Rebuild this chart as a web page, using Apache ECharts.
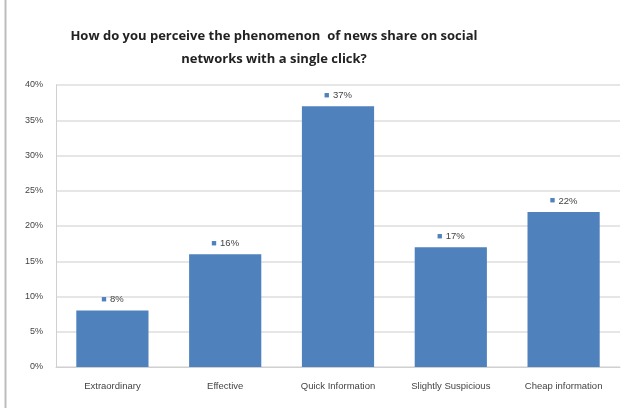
<!DOCTYPE html>
<html>
<head>
<meta charset="utf-8">
<script src="https://cdn.jsdelivr.net/npm/echarts@6/dist/echarts.min.js"></script>
<style>
  html, body { margin: 0; padding: 0; background: #fff; }
  #chart { width: 623px; height: 408px; }
</style>
</head>
<body>
<div id="chart"></div>
<script>
// Survey answers: perception of one-click news sharing
const categories = ['Extraordinary', 'Effective', 'Quick Information', 'Slightly Suspicious', 'Cheap information'];
const shares = [8, 16, 37, 17, 22];
const yTicks = [0, 5, 10, 15, 20, 25, 30, 35, 40];

const chart = echarts.init(document.getElementById('chart'));
chart.setOption({
  animation: false,
  backgroundColor: '#fff',
  title: {
    text: 'How do you perceive the phenomenon  of news share on social\nnetworks with a single click?',
    left: 269,
    top: 20,
    textAlign: 'center',
    textStyle: {
      fontFamily: 'Open Sans',
      fontWeight: 'bold',
      fontSize: 13,
      lineHeight: 23,
      color: '#222'
    }
  },
  graphic: [{
    type: 'line',
    shape: { x1: 5.5, y1: 0, x2: 5.5, y2: 408 },
    style: { stroke: '#bdbdbd', lineWidth: 2 }
  }],
  grid: { left: 56, right: 3, top: 85, bottom: 41 },
  xAxis: {
    type: 'category',
    data: categories,
    axisLine: { lineStyle: { color: '#d0d0d0' } },
    axisTick: { show: false },
    axisLabel: {
      fontFamily: 'Liberation Sans Narrow, Liberation Sans',
      fontSize: 9.5,
      color: '#444',
      margin: 14,
      interval: 0
    }
  },
  yAxis: {
    type: 'value',
    min: yTicks[0],
    max: yTicks[yTicks.length - 1],
    interval: 5,
    axisLine: { show: true, lineStyle: { color: '#d0d0d0' } },
    axisTick: { show: false },
    splitLine: { lineStyle: { color: '#dedede', width: 1.5 } },
    axisLabel: {
      formatter: '{value}%',
      fontFamily: 'Liberation Sans Narrow, Liberation Sans',
      fontSize: 9,
      color: '#444',
      margin: 13
    }
  },
  series: [{
    type: 'bar',
    data: shares,
    barCategoryGap: '36%',
    itemStyle: { color: '#4f81bd' },
    label: {
      show: true,
      position: 'top',
      distance: 5,
      formatter: p => '{m|■} {v|' + p.value + '%}',
      rich: {
        m: { color: '#4f81bd', fontSize: 9 },
        v: { color: '#444', fontSize: 9.5, fontFamily: 'Liberation Sans Narrow, Liberation Sans' }
      }
    }
  }]
});
</script>
</body>
</html>
